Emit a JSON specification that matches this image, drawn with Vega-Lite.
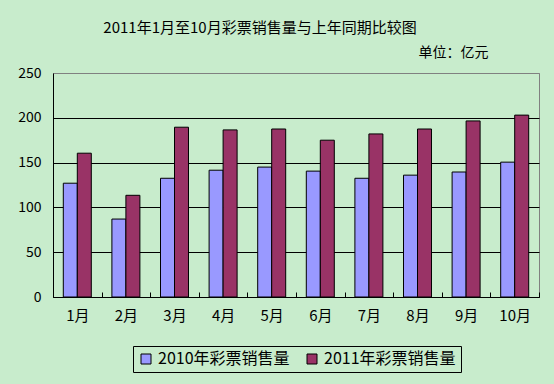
{
  "$schema": "https://vega.github.io/schema/vega-lite/v6.json",
  "width": 486,
  "height": 224,
  "autosize": {"type": "none"},
  "padding": {"left": 53, "top": 73, "right": 15, "bottom": 87},
  "background": "#C8ECCC",
  "title": {
    "text": "2011年1月至10月彩票销售量与上年同期比较图",
    "font": "Noto Sans CJK SC",
    "fontSize": 15,
    "fontWeight": "normal",
    "color": "black",
    "anchor": "middle",
    "dx": -36,
    "offset": 9
  },
  "config": {
    "view": {"stroke": "#808080", "strokeWidth": 1},
    "font": "Noto Sans CJK SC"
  },
  "data": {
    "values": [
      {"month": "1月", "series": "2010年彩票销售量", "value": 127},
      {"month": "1月", "series": "2011年彩票销售量", "value": 160.5},
      {"month": "2月", "series": "2010年彩票销售量", "value": 87},
      {"month": "2月", "series": "2011年彩票销售量", "value": 113.5},
      {"month": "3月", "series": "2010年彩票销售量", "value": 132.5},
      {"month": "3月", "series": "2011年彩票销售量", "value": 189.5},
      {"month": "4月", "series": "2010年彩票销售量", "value": 141.5},
      {"month": "4月", "series": "2011年彩票销售量", "value": 186.5},
      {"month": "5月", "series": "2010年彩票销售量", "value": 145},
      {"month": "5月", "series": "2011年彩票销售量", "value": 187.5},
      {"month": "6月", "series": "2010年彩票销售量", "value": 140.5},
      {"month": "6月", "series": "2011年彩票销售量", "value": 175},
      {"month": "7月", "series": "2010年彩票销售量", "value": 132.5},
      {"month": "7月", "series": "2011年彩票销售量", "value": 182},
      {"month": "8月", "series": "2010年彩票销售量", "value": 136},
      {"month": "8月", "series": "2011年彩票销售量", "value": 187.5},
      {"month": "9月", "series": "2010年彩票销售量", "value": 139.5},
      {"month": "9月", "series": "2011年彩票销售量", "value": 196.5},
      {"month": "10月", "series": "2010年彩票销售量", "value": 150.5},
      {"month": "10月", "series": "2011年彩票销售量", "value": 203}
    ]
  },
  "mark": {"type": "bar", "stroke": "black", "strokeWidth": 1},
  "encoding": {
    "x": {
      "field": "month",
      "type": "nominal",
      "sort": null,
      "scale": {"paddingInner": 0, "paddingOuter": 0},
      "axis": {
        "title": null,
        "labelAngle": 0,
        "labelFont": "Noto Sans CJK SC",
        "labelFontSize": 15,
        "labelColor": "black",
        "labelPadding": 16,
        "domainColor": "black",
        "tickColor": "black",
        "tickBand": "extent",
        "tickSize": -5,
        "grid": false
      }
    },
    "xOffset": {
      "field": "series",
      "type": "nominal",
      "scale": {"paddingInner": 0, "paddingOuter": 0.736}
    },
    "y": {
      "field": "value",
      "type": "quantitative",
      "scale": {"domain": [0, 250], "nice": false},
      "axis": {
        "values": [0, 50, 100, 150, 200, 250],
        "title": "单位：亿元",
        "titleAngle": 0,
        "titleX": 365,
        "titleY": -14,
        "titleAlign": "left",
        "titleBaseline": "bottom",
        "titleFont": "Noto Sans CJK SC",
        "titleFontSize": 14,
        "titleFontWeight": "normal",
        "titleColor": "black",
        "labelFont": "Noto Sans CJK SC",
        "labelFontSize": 14,
        "labelColor": "black",
        "labelPadding": 12,
        "ticks": false,
        "domainColor": "black",
        "gridColor": {"condition": {"test": "datum.value >= 250", "value": "#808080"}, "value": "black"},
        "gridOpacity": 1,
        "gridWidth": 1
      }
    },
    "color": {
      "field": "series",
      "type": "nominal",
      "scale": {"range": ["#9999FF", "#993366"]},
      "legend": {
        "title": null,
        "orient": "none",
        "legendX": 80,
        "legendY": 273,
        "direction": "horizontal",
        "strokeColor": "black",
        "padding": 5,
        "symbolType": "square",
        "symbolSize": 100,
        "symbolStrokeColor": "black",
        "symbolStrokeWidth": 1,
        "symbolOpacity": 1,
        "labelFont": "Noto Sans CJK SC",
        "labelFontSize": 16,
        "labelColor": "black",
        "labelOffset": 4,
        "columnPadding": 14
      }
    }
  }
}
